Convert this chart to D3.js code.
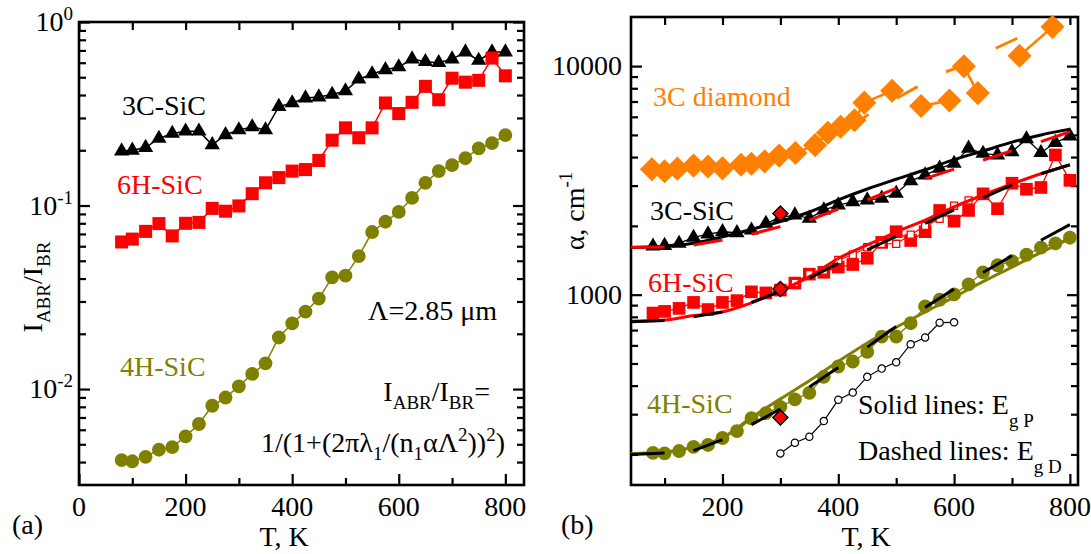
<!DOCTYPE html>
<html><head><meta charset="utf-8">
<script src="https://cdn.jsdelivr.net/npm/d3@7"></script>
<style>
body{margin:0;background:#fff}
svg{display:block}
text{font-family:"Liberation Serif","Times New Roman",serif}
</style>
</head><body>
<svg id="c" width="1091" height="554"></svg>
<script>
// ---------------- DATA ----------------
const temps = [80,100,125,150,175,200,225,250,275,300,325,350,375,400,425,450,475,500,525,550,575,600,625,650,675,700,725,750,775,800];

// panel (a): I_ABR / I_BR
const ratio3C = [0.198,0.200,0.207,0.232,0.247,0.254,0.254,0.214,0.243,0.258,0.268,0.258,0.346,0.362,0.385,0.390,0.403,0.421,0.488,0.521,0.549,0.569,0.628,0.608,0.600,0.628,0.686,0.617,0.686,0.686];
const ratio6H = [0.0633,0.0656,0.0723,0.0797,0.0683,0.0800,0.0809,0.0965,0.0931,0.0995,0.116,0.133,0.142,0.154,0.157,0.176,0.227,0.265,0.234,0.265,0.362,0.317,0.365,0.446,0.377,0.494,0.470,0.481,0.636,0.509];
const ratio4H = [0.00410,0.00404,0.00427,0.00467,0.00483,0.00552,0.00645,0.00811,0.00899,0.01035,0.01209,0.0138,0.0191,0.0228,0.0264,0.0311,0.0406,0.0415,0.0530,0.0717,0.0816,0.0923,0.110,0.133,0.154,0.166,0.181,0.205,0.219,0.242];

// panel (b): alpha, cm^-1
const alpha3C = [1630,1640,1675,1780,1840,1885,1866,1915,2050,2180,2230,2157,2345,2467,2547,2593,2638,2773,3148,3334,3570,3752,4365,4150,4083,4217,4800,4180,4630,4945];
const alpha6H = [831,845,871,925,861,925,942,1029,1018,1047,1124,1230,1253,1321,1355,1443,1693,1886,1726,1886,2336,2099,2336,2762,2377,3074,2892,2944,4085,3164];
const alpha4H = [203,202,207,216,220,236,253,288,303,323,348,372,437,485,510,562,655,656,750,888,950,1003,1110,1252,1345,1402,1495,1607,1677,1775];

const temps6Hopen = [325,350,375,400,425,450,475,500,525,550,575,600,625];
const alpha6Hopen = [1125,1230,1275,1418,1495,1612,1668,1670,1830,2000,2145,2450,2585];
const temps4Hopen = [300,325,350,375,400,425,450,475,500,525,550,575,600];
const alpha4Hopen = [202,225,239,280,347,373,437,475,506,607,650,754,757];

const tempsDiamond = [78,100,122,150,175,200,232,250,273,298,326,360,382,404,428,445,493,543,592,617,641,713,770];
const alphaDiamond = [3540,3470,3560,3670,3640,3570,3700,3740,3830,4060,4170,4510,5110,5430,5800,6920,7800,6690,7070,9980,7620,11100,14850];
const groupDiamond = [0,0,0,0,0,0,0,0,0,0,0,0,0,0,0,0,0,1,1,2,2,3,3];
const tempsDiamondFit = [427,452,501,537,586,602,672,709];
const alphaDiamondFit = [5520,6150,7230,8130,9450,9780,11970,13240];

const tempsRef = [300,300,300];          // red reference diamonds
const alphaRef = [2265,1058,290];

const tempsFit = [42,100,150,200,250,300,350,400,450,500,550,600,650,700,750,800];
const fit3Csolid  = [1610,1625,1680,1790,1930,2090,2300,2600,2900,3200,3520,3900,4250,4650,5000,5300];
const fit3Cdash   = [1612,1615,1650,1735,1840,1985,2120,2370,2600,2920,3220,3540,3880,4270,4670,5160];
const fit6Hsolid  = [765,775,810,840,920,1040,1200,1440,1650,1880,2120,2420,2730,3050,3380,3700];
const fit6Hdash   = [762,770,800,841,925,1035,1180,1370,1570,1800,2050,2350,2650,3020,3380,3700];
const fit4Hsolid  = [202,205,215,237,290,350,420,510,615,720,840,975,1140,1320,1530,1760];
const fit4Hdash   = [200,203,208,232,270,316,395,480,590,725,880,1060,1250,1480,1730,2025];

const xTicksA = [0,200,400,600,800];
const xTicksB = [200,400,600,800];
const yTicksA = [0.01,0.1,1];
const yTickExpA = ["-2","-1","0"];
const yTicksB = [1000,10000];

// ---------------- SETUP ----------------
const RED="#ff0000", OLIVE="#808000", ORANGE="#ff8000", BLACK="#000";
const svg = d3.select("#c");
const xA = d3.scaleLinear().domain([0,835]).range([79,524]);
const yA = d3.scaleLog().domain([0.003,1]).range([485,22]);
const xB = d3.scaleLinear().domain([42,814]).range([631,1078]);
const yB = d3.scaleLog().domain([147,16400]).range([485,17]);

function minorLog(dom){
  const out=[]; for(let e=-4;e<6;e++) for(let k=2;k<10;k++){const v=k*Math.pow(10,e); if(v>dom[0]&&v<dom[1]) out.push(v);} return out;
}

function frame(x, y, xMajor, xMinor, yMajor){
  const [x0,x1]=x.range(), [y1,y0]=y.range();
  const g=svg.append("g");
  const yMinor=minorLog(y.domain());
  const ax=(gen,tx,ty)=>g.append("g").attr("transform",`translate(${tx},${ty})`).call(gen)
     .call(s=>{s.select(".domain").remove(); s.selectAll("text").remove(); s.selectAll("line").attr("stroke",BLACK).attr("stroke-width",2.2);});
  ax(d3.axisLeft(y).tickValues(yMajor).tickSize(-11),x0,0);
  ax(d3.axisLeft(y).tickValues(yMinor).tickSize(-7),x0,0);
  ax(d3.axisRight(y).tickValues(yMajor).tickSize(-11),x1,0);
  ax(d3.axisRight(y).tickValues(yMinor).tickSize(-7),x1,0);
  ax(d3.axisBottom(x).tickValues(xMajor).tickSize(-11),0,y1);
  ax(d3.axisBottom(x).tickValues(xMinor).tickSize(-7),0,y1);
  ax(d3.axisTop(x).tickValues(xMajor).tickSize(-8),0,y0);
  ax(d3.axisTop(x).tickValues(xMinor).tickSize(-8),0,y0);
  g.append("rect").attr("x",x0).attr("y",y0).attr("width",x1-x0).attr("height",y1-y0)
   .attr("fill","none").attr("stroke",BLACK).attr("stroke-width",2.6);
  xMajor.forEach(v=>{ if(v>=x.domain()[0]) g.append("text").attr("x",x(v)).attr("y",516).attr("text-anchor","middle").attr("font-size",28).text(v); });
}

function rich(x,y,parts,o={}){
  const t=svg.append("text").attr("x",x).attr("y",y).attr("font-size",o.fs||28)
    .attr("fill",o.fill||BLACK).attr("text-anchor",o.anchor||"start");
  if(o.rot) t.attr("transform",`rotate(-90 ${x} ${y})`);
  parts.forEach(([s,k])=>{
    const ts=t.append("tspan").text(s);
    if(k==="sub") ts.attr("font-size",o.sfs||19).attr("baseline-shift",`-${o.sub||8}px`);
    if(k==="sup") ts.attr("font-size",o.sfs||19).attr("baseline-shift",`${o.sup||11}px`);
  });
  return t;
}

function connect(g,xs,ys,x,y,color,w){
  g.append("path").datum(xs.map((v,i)=>[v,ys[i]]))
   .attr("d",d3.line().x(d=>x(d[0])).y(d=>y(d[1])))
   .attr("fill","none").attr("stroke",color).attr("stroke-width",w);
}
function marks(g,xs,ys,x,y,o){
  const sym=d3.symbol().type(o.type).size(o.size);
  g.selectAll(null).data(xs.map((v,i)=>[v,ys[i]])).join("path")
   .attr("d",sym)
   .attr("transform",d=>`translate(${x(d[0])},${y(d[1])})`+(o.rot?` rotate(${o.rot})`:""))
   .attr("fill",o.fill).attr("stroke",o.stroke||"none").attr("stroke-width",o.sw||0);
}
function solidFit(g,vals,color){
  g.append("path").datum(tempsFit.map((t,i)=>[t,vals[i]]))
   .attr("d",d3.line().curve(d3.curveMonotoneX).x(d=>xB(d[0])).y(d=>yB(d[1])))
   .attr("fill","none").attr("stroke",color).attr("stroke-width",3);
}
function dashFit(g,ts,vals,color){
  for(let i=0;i+1<ts.length;i+=2){
    g.append("path").datum([[ts[i],vals[i]],[ts[i+1],vals[i+1]]])
     .attr("d",d3.line().x(d=>xB(d[0])).y(d=>yB(d[1])))
     .attr("fill","none").attr("stroke",color).attr("stroke-width",3).attr("stroke-linecap","butt");
  }
}

// ---------------- PANEL (a) ----------------
frame(xA,yA,xTicksA,[100,300,500,700],yTicksA);
yTicksA.forEach((v,i)=>rich(73,yA(v)+9,[["10"],[yTickExpA[i],"sup"]],{anchor:"end"}));
const gA=svg.append("g");
connect(gA,temps,ratio3C,xA,yA,BLACK,1.5);
connect(gA,temps,ratio6H,xA,yA,RED,1.5);
connect(gA,temps,ratio4H,xA,yA,OLIVE,1.5);
marks(gA,temps,ratio3C,xA,yA,{type:d3.symbolTriangle,size:100,fill:BLACK});
marks(gA,temps,ratio6H,xA,yA,{type:d3.symbolSquare,size:170,fill:RED});
marks(gA,temps,ratio4H,xA,yA,{type:d3.symbolCircle,size:150,fill:OLIVE});

svg.append("text").attr("x",122).attr("y",115).attr("font-size",28).attr("fill",BLACK).text("3C-SiC");
svg.append("text").attr("x",117).attr("y",194).attr("font-size",28).attr("fill",RED).text("6H-SiC");
svg.append("text").attr("x",120).attr("y",376).attr("font-size",28).attr("fill",OLIVE).text("4H-SiC");
svg.append("text").attr("x",497).attr("y",320).attr("font-size",28).attr("text-anchor","end").text("Λ=2.85 μm");
rich(490,401,[["I"],["ABR","sub"],["/I"],["BR","sub"],["="]],{anchor:"end"});
rich(505,452,[["1/(1+(2πλ"],["1","sub"],["/(n"],["1","sub"],["αΛ"],["2","sup"],["))"],["2","sup"],[")"]],{anchor:"end"});
rich(42,287,[["I"],["ABR","sub"],["/I"],["BR","sub"]],{rot:true,anchor:"middle"});
svg.append("text").attr("x",xA(400)-8).attr("y",546).attr("font-size",28).attr("text-anchor","middle").text("T, K");
svg.append("text").attr("x",12).attr("y",534).attr("font-size",28).text("(a)");

// ---------------- PANEL (b) ----------------
frame(xB,yB,xTicksB,[100,300,500,700],yTicksB);
yTicksB.forEach(v=>svg.append("text").attr("x",622).attr("y",yB(v)+9).attr("font-size",28).attr("text-anchor","end").text(v));
const gB=svg.append("g");
// diamond (orange)
d3.range(4).forEach(k=>{
  const idx=groupDiamond.map((gg,i)=>gg===k?i:-1).filter(i=>i>=0);
  connect(gB,idx.map(i=>tempsDiamond[i]),idx.map(i=>alphaDiamond[i]),xB,yB,ORANGE,2.5);
});
marks(gB,tempsDiamond,alphaDiamond,xB,yB,{type:d3.symbolSquare,size:290,fill:ORANGE,rot:45});
dashFit(gB,tempsDiamondFit,alphaDiamondFit,ORANGE);

// data connecting lines + markers
connect(gB,temps,alpha3C,xB,yB,BLACK,1.3);
connect(gB,temps,alpha6H,xB,yB,RED,1.3);
connect(gB,temps,alpha4H,xB,yB,OLIVE,1.3);
connect(gB,temps6Hopen,alpha6Hopen,xB,yB,RED,1.2);
connect(gB,temps4Hopen,alpha4Hopen,xB,yB,BLACK,1.2);
marks(gB,temps,alpha3C,xB,yB,{type:d3.symbolTriangle,size:100,fill:BLACK});
marks(gB,temps,alpha6H,xB,yB,{type:d3.symbolSquare,size:160,fill:RED});
marks(gB,temps,alpha4H,xB,yB,{type:d3.symbolCircle,size:150,fill:OLIVE});
marks(gB,temps6Hopen,alpha6Hopen,xB,yB,{type:d3.symbolSquare,size:50,fill:"#fff",stroke:RED,sw:1.3});
marks(gB,temps4Hopen,alpha4Hopen,xB,yB,{type:d3.symbolCircle,size:42,fill:"#fff",stroke:BLACK,sw:1.2});

// fits
solidFit(gB,fit3Csolid,BLACK);
dashFit(gB,tempsFit,fit3Cdash,RED);
solidFit(gB,fit6Hsolid,RED);
dashFit(gB,tempsFit,fit6Hdash,BLACK);
solidFit(gB,fit4Hsolid,OLIVE);
dashFit(gB,tempsFit,fit4Hdash,BLACK);

marks(gB,tempsRef,alphaRef,xB,yB,{type:d3.symbolSquare,size:115,fill:RED,stroke:BLACK,sw:1.3,rot:45});

svg.append("text").attr("x",653).attr("y",106).attr("font-size",28).attr("fill",ORANGE).text("3C diamond");
svg.append("text").attr("x",650).attr("y",220).attr("font-size",28).attr("fill",BLACK).text("3C-SiC");
svg.append("text").attr("x",648).attr("y",292).attr("font-size",28).attr("fill",RED).text("6H-SiC");
svg.append("text").attr("x",647).attr("y",413).attr("font-size",28).attr("fill",OLIVE).text("4H-SiC");
rich(858,414,[["Solid lines: E"],["g P","sub"]],{sub:13});
rich(858,460,[["Dashed lines: E"],["g D","sub"]],{sub:13});
rich(584,211,[["α, cm"],["-1","sup"]],{rot:true,anchor:"middle",sup:12});
svg.append("text").attr("x",866).attr("y",546).attr("font-size",28).attr("text-anchor","middle").text("T, K");
svg.append("text").attr("x",561).attr("y",534).attr("font-size",28).text("(b)");
</script>
</body></html>
